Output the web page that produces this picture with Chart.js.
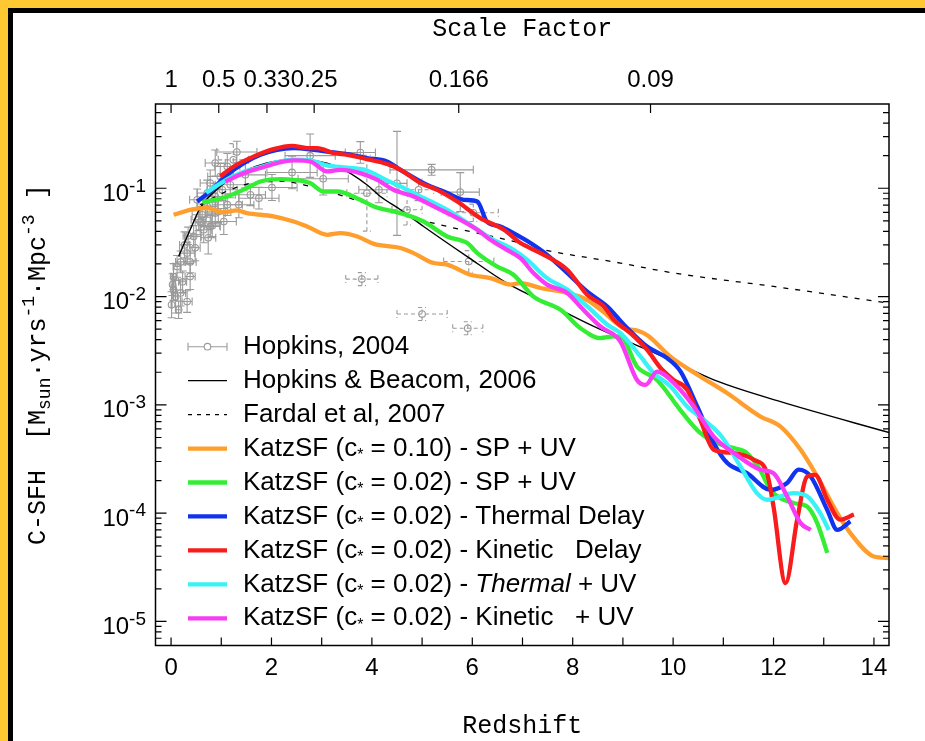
<!DOCTYPE html>
<html>
<head>
<meta charset="utf-8">
<title>Cosmic star formation history</title>
<script src="https://cdn.jsdelivr.net/npm/chart.js@4.4.1/dist/chart.umd.min.js"></script>
<style>
  html, body { margin: 0; padding: 0; background: #fff; }
  #wrap { position: relative; width: 925px; height: 741px; overflow: hidden; background: #fff; }
  .edge { position: absolute; }
  #goldTop { left: 0; top: 0; width: 925px; height: 8px; background: #fec832; }
  #goldLeft { left: 0; top: 0; width: 8px; height: 741px; background: #fec832; }
  #inkTop { left: 8px; top: 8px; width: 917px; height: 5px; background: #000; }
  #inkLeft { left: 8px; top: 8px; width: 5px; height: 733px; background: #000; }
  canvas { position: absolute; left: 0; top: 0; }
</style>
</head>
<body>
<div id="wrap">
  <div class="edge" id="goldTop"></div>
  <div class="edge" id="goldLeft"></div>
  <div class="edge" id="inkTop"></div>
  <div class="edge" id="inkLeft"></div>
  <canvas id="sfh" width="925" height="741"></canvas>
</div>
<script>
// axes
const zMin = -0.31, zMax = 14.3;
const sfhMin = 6e-6, sfhMax = 0.6;
const redshiftTicks = [0, 2, 4, 6, 8, 10, 12, 14];
const scaleFactorPos = [0, 0.95, 1.91, 2.85, 5.73, 9.55];
const scaleFactorLabels = ['1', '0.5', '0.33', '0.25', '0.166', '0.09'];
const decadeTicks = [1e-1, 1e-2, 1e-3, 1e-4, 1e-5];
const decadeExp = ['-1', '-2', '-3', '-4', '-5'];

const seriesLabels = [
  'Hopkins, 2004',
  'Hopkins & Beacom, 2006',
  'Fardal et al, 2007',
  'KatzSF (c* = 0.10) - SP + UV',
  'KatzSF (c* = 0.02) - SP + UV',
  'KatzSF (c* = 0.02) - Thermal Delay',
  'KatzSF (c* = 0.02) - Kinetic   Delay',
  'KatzSF (c* = 0.02) - |Thermal| + UV',
  'KatzSF (c* = 0.02) - Kinetic   + UV'
];

// Hopkins 2004 compilation: redshift, SFR density, redshift half-width, log error (dex), dashed bars
const hop04Z = [0.01, 0.03, 0.05, 0.05, 0.09, 0.12, 0.15, 0.19, 0.19, 0.23, 0.27, 0.32, 0.32, 0.34, 0.38, 0.38,
  0.45, 0.48, 0.52, 0.55, 0.58, 0.62, 0.65, 0.72, 0.72, 0.74, 0.78, 0.78, 0.82, 0.88, 0.88, 0.88, 0.94, 0.98,
  1.02, 1.05, 1.12, 1.12, 1.18, 1.24, 1.31, 1.35, 1.48, 1.58, 1.75, 2.01, 2.41, 2.77, 3.03, 3.77, 3.8, 3.9,
  4.14, 4.5, 4.7, 4.93, 5.0, 5.19, 5.76, 5.93, 5.91, 6.02];
const hop04Sfh = [0.0084, 0.0129, 0.0153, 0.0116, 0.00995, 0.019, 0.00755, 0.0108, 0.0209, 0.0137, 0.030, 0.009,
  0.0252, 0.0364, 0.0153, 0.0209, 0.0359, 0.0282, 0.0783, 0.0512, 0.049, 0.0569, 0.0414, 0.068, 0.0903, 0.0349,
  0.0444, 0.1117, 0.0451, 0.059, 0.084, 0.171, 0.0607, 0.1285, 0.0968, 0.0493, 0.0705, 0.159, 0.1077, 0.183,
  0.216, 0.0705, 0.133, 0.087, 0.081, 0.1017, 0.14, 0.2, 0.1225, 0.214, 0.0145, 0.09, 0.0968, 0.111, 0.0633,
  0.0968, 0.0069, 0.148, 0.0922, 0.0211, 0.0051, 0.0594];
const hop04Zerr = [0.01, 0.03, 0.05, 0.05, 0.04, 0.08, 0.05, 0.1, 0.1, 0.08, 0.1, 0.1, 0.15, 0.1, 0.1, 0.12,
  0.15, 0.1, 0.15, 0.15, 0.1, 0.2, 0.15, 0.2, 0.2, 0.15, 0.2, 0.2, 0.15, 0.2, 0.2, 0.2, 0.25, 0.25,
  0.3, 0.25, 0.3, 0.25, 0.3, 0.3, 0.4, 0.3, 0.4, 0.3, 0.4, 0.5, 0.5, 0.5, 0.5, 0.3, 0.32, 0.4,
  0.4, 0.2, 0.3, 0.3, 0.5, 0.83, 0.38, 0.5, 0.3, 0.5];
const hop04Dex = [0.12, 0.1, 0.12, 0.1, 0.15, 0.1, 0.08, 0.12, 0.1, 0.1, 0.12, 0.1, 0.1, 0.08, 0.12, 0.1,
  0.1, 0.12, 0.1, 0.1, 0.12, 0.1, 0.12, 0.1, 0.12, 0.15, 0.1, 0.12, 0.1, 0.1, 0.12, 0.12, 0.1, 0.12,
  0.1, 0.12, 0.1, 0.12, 0.12, 0.15, 0.1, 0.12, 0.12, 0.1, 0.1, 0.12, 0.15, 0.2, 0.15, 0.1, 0.06, 0.35,
  0.12, 0.48, 0.14, 0.1, 0.06, 0.05, 0.18, 0.1, 0.06, 0.08];
const hop04Dashed = [0, 0, 0, 0, 0, 0, 0, 0, 0, 0, 0, 0, 0, 0, 0, 0,
  0, 0, 0, 0, 0, 0, 0, 0, 0, 0, 0, 0, 0, 0, 0, 0, 0, 0,
  0, 0, 0, 0, 0, 1, 0, 0, 0, 0, 0, 0, 0, 0, 0, 0, 1, 1,
  0, 0, 1, 1, 1, 0, 0, 1, 1, 1];

// Hopkins & Beacom 2006 fit
const hb06Z = [0.15, 0.38, 0.58, 0.98, 1.45, 1.91, 2.44, 2.84, 3.37, 3.9, 4.17, 4.57, 5.03, 5.9, 6.69, 7.62,
  8.42, 9.48, 9.95, 10.81, 12.14, 14.33];
const hb06Sfh = [0.0234, 0.0414, 0.0656, 0.104, 0.143, 0.171, 0.186, 0.181, 0.154, 0.1077, 0.084, 0.0633, 0.0444,
  0.0234, 0.0133, 0.0081, 0.0053, 0.00323, 0.0026, 0.0017, 0.00107, 0.00055];

// Fardal et al 2007
const fardalZ = [0.58, 1.18, 1.78, 2.24, 2.77, 3.23, 3.77, 4.83, 5.36, 6.82, 7.36, 8.95, 10.01, 12.0, 14.3];
const fardalSfh = [0.0705, 0.0968, 0.1148, 0.1156, 0.104, 0.0903, 0.0756, 0.0531, 0.046, 0.0323, 0.0275, 0.0204,
  0.0165, 0.0124, 0.0087];

// KatzSF c* = 0.10, SP + UV
const katz10Z = [0.05, 0.45, 0.72, 1.04, 1.31, 1.51, 2.04, 2.44, 2.71, 3.11, 3.37, 3.71, 4.04, 4.57, 4.83, 5.23,
  5.5, 5.96, 6.36, 6.76, 6.96, 7.36, 7.89, 8.29, 8.61, 9.0, 9.3, 9.5, 9.94, 10.54, 11.08, 11.74, 12.14, 12.54,
  12.87, 13.27, 13.53, 14.0, 14.29];
const katz10Sfh = [0.0569, 0.0643, 0.0656, 0.0598, 0.0624, 0.059, 0.055, 0.0493, 0.0444, 0.0372, 0.0385, 0.0359,
  0.0307, 0.0281, 0.0252, 0.0204, 0.0197, 0.0159, 0.0148, 0.0129, 0.0133, 0.012, 0.0108, 0.0093, 0.00724,
  0.00515, 0.00483, 0.00435, 0.0028, 0.00183, 0.00128, 0.00078, 0.00063, 0.000385, 0.000218, 0.0001, 6.55e-5,
  3.98e-5, 3.85e-5];

// KatzSF c* = 0.02, SP + UV
const spUvZ = [0.62, 1.12, 1.51, 1.78, 2.18, 2.44, 2.77, 3.04, 3.31, 3.77, 4.04, 4.57, 5.03, 5.5, 5.9, 6.1, 6.49,
  6.82, 7.22, 7.76, 8.15, 8.55, 8.82, 8.95, 9.28, 9.68, 10.14, 10.54, 10.88, 11.21, 11.47, 11.73, 11.94, 12.4,
  12.67, 12.87, 13.07];
const spUvSfh = [0.074, 0.084, 0.1005, 0.1156, 0.1216, 0.1197, 0.1117, 0.0934, 0.0934, 0.0783, 0.068, 0.059,
  0.0493, 0.0359, 0.0312, 0.0252, 0.019, 0.0159, 0.01, 0.00755, 0.00512, 0.00414, 0.00429, 0.00429, 0.00226,
  0.0017, 0.0009, 0.00055, 0.000443, 0.000399, 0.000359, 0.000252, 0.000164, 0.000124, 0.000115, 8.1e-5, 4.3e-5];

// KatzSF c* = 0.02, thermal delay
const thDelayZ = [0.52, 0.78, 1.12, 1.45, 1.78, 2.11, 2.44, 2.84, 3.24, 3.51, 3.9, 4.3, 4.57, 5.03, 5.5, 5.83,
  6.1, 6.29, 6.56, 6.82, 7.16, 7.49, 7.89, 8.29, 8.69, 9.02, 9.48, 9.88, 10.15, 10.48, 10.81, 11.08, 11.47,
  11.94, 12.27, 12.5, 12.74, 13.07, 13.27, 13.53];
const thDelaySfh = [0.0755, 0.0934, 0.1334, 0.171, 0.2037, 0.2265, 0.235, 0.2265, 0.214, 0.207, 0.19, 0.1767,
  0.148, 0.1117, 0.0903, 0.0783, 0.0755, 0.0493, 0.0444, 0.0385, 0.0312, 0.0243, 0.0165, 0.0111, 0.0081,
  0.0055, 0.00346, 0.0027, 0.00203, 0.000966, 0.000443, 0.00029, 0.000234, 0.000164, 0.00019, 0.000252,
  0.000218, 0.000107, 7.0e-5, 8.4e-5];

// KatzSF c* = 0.02, kinetic delay
const kinDelayZ = [0.98, 1.25, 1.65, 2.04, 2.41, 2.71, 2.91, 3.24, 3.51, 3.9, 4.3, 4.57, 4.97, 5.3, 5.7, 6.16,
  6.63, 6.96, 7.36, 7.89, 8.29, 8.62, 8.82, 9.15, 9.48, 9.75, 10.01, 10.28, 10.54, 10.81, 11.21, 11.61, 11.87,
  12.0, 12.24, 12.47, 12.67, 12.83, 13.07, 13.33, 13.6];
const kinDelaySfh = [0.1285, 0.159, 0.197, 0.23, 0.2466, 0.235, 0.235, 0.2113, 0.2037, 0.186, 0.168, 0.148,
  0.1117, 0.0968, 0.0755, 0.0531, 0.0414, 0.0312, 0.0252, 0.0177, 0.0104, 0.0081, 0.0061, 0.0046, 0.00323,
  0.00219, 0.0017, 0.00138, 0.00073, 0.000385, 0.000359, 0.000311, 0.000234, 0.000115, 2.26e-5, 8.7e-5,
  0.000218, 0.000226, 0.000133, 8.7e-5, 9.7e-5];

// KatzSF c* = 0.02, thermal + UV
const thUvZ = [0.7, 0.94, 1.18, 1.45, 1.78, 2.11, 2.44, 2.77, 3.11, 3.51, 3.9, 4.3, 4.57, 4.83, 5.5, 5.96, 6.36,
  6.82, 7.09, 7.49, 7.89, 8.29, 8.69, 8.95, 9.35, 9.61, 9.95, 10.28, 10.61, 10.98, 11.34, 11.67, 11.87, 12.4,
  12.67, 12.93, 13.1];
const thUvSfh = [0.0908, 0.1077, 0.125, 0.142, 0.157, 0.174, 0.184, 0.181, 0.163, 0.155, 0.146, 0.118, 0.104,
  0.0903, 0.0633, 0.046, 0.0347, 0.027, 0.0219, 0.0148, 0.0116, 0.0081, 0.0055, 0.0046, 0.0028, 0.00197,
  0.00148, 0.000966, 0.00073, 0.0005, 0.00027, 0.000153, 0.000133, 0.000153, 0.000143, 0.0001, 7.0e-5];

// KatzSF c* = 0.02, kinetic + UV
const kinUvZ = [1.08, 1.45, 1.78, 2.11, 2.44, 2.77, 3.11, 3.37, 3.77, 4.1, 4.43, 4.83, 5.3, 5.7, 6.1, 6.36, 6.69,
  6.96, 7.22, 7.49, 7.89, 8.15, 8.55, 8.95, 9.28, 9.45, 9.68, 10.08, 10.41, 10.81, 11.21, 11.74, 12.0, 12.27,
  12.54, 12.74];
const kinUvSfh = [0.1156, 0.138, 0.154, 0.171, 0.181, 0.1767, 0.143, 0.148, 0.138, 0.12, 0.0968, 0.084, 0.0656,
  0.0531, 0.0414, 0.0334, 0.027, 0.0226, 0.0165, 0.0129, 0.0108, 0.0081, 0.0053, 0.00385, 0.0017, 0.00153,
  0.00203, 0.00148, 0.000966, 0.00051, 0.000359, 0.000252, 0.000234, 0.000143, 8.1e-5, 7.0e-5];

const grey = '#9a9a9a';
const sans = '"Liberation Sans", Arial, Helvetica, sans-serif';
const mono = '"Liberation Mono", "Courier New", monospace';

function pts(zs, vs) {
  return zs.map((z, i) => ({ x: z, y: vs[i] }));
}

function curve(label, zs, vs, color, width, dash) {
  return {
    label: label,
    data: pts(zs, vs),
    borderColor: color,
    backgroundColor: color,
    borderWidth: width,
    borderDash: dash || [],
    pointRadius: 0,
    pointHoverRadius: 0,
    cubicInterpolationMode: 'monotone',
    fill: false,
    xAxisID: 'x',
    yAxisID: 'y'
  };
}

const datasets = [
  {
    label: seriesLabels[0],
    data: pts(hop04Z, hop04Sfh),
    showLine: false,
    borderColor: grey,
    backgroundColor: 'rgba(0,0,0,0)',
    pointRadius: 3.3,
    pointHoverRadius: 3.3,
    pointBorderWidth: 1.1,
    pointBorderColor: grey,
    pointBackgroundColor: 'rgba(0,0,0,0)',
    xAxisID: 'x',
    yAxisID: 'y'
  },
  curve(seriesLabels[1], hb06Z, hb06Sfh, '#000', 1.4),
  curve(seriesLabels[2], fardalZ, fardalSfh, '#000', 1.3, [5, 7]),
  curve(seriesLabels[3], katz10Z, katz10Sfh, '#ff9e2c', 4.3),
  curve(seriesLabels[4], spUvZ, spUvSfh, '#33ee33', 4.3),
  curve(seriesLabels[5], thDelayZ, thDelaySfh, '#1133ee', 4.3),
  curve(seriesLabels[6], kinDelayZ, kinDelaySfh, '#f81c1c', 4.3),
  curve(seriesLabels[7], thUvZ, thUvSfh, '#38f2f7', 4.3),
  curve(seriesLabels[8], kinUvZ, kinUvSfh, '#f83cf5', 4.3)
];
// later entries sit on top
datasets.forEach((d, i) => { d.order = datasets.length - 1 - i; });

// grey error bars under the Hopkins 2004 markers
const errorBars = {
  id: 'errorBars',
  beforeDatasetsDraw(chart) {
    const { ctx, chartArea: a, scales: { x, y } } = chart;
    ctx.save();
    ctx.beginPath();
    ctx.rect(a.left, a.top, a.right - a.left, a.bottom - a.top);
    ctx.clip();
    ctx.strokeStyle = grey;
    ctx.lineWidth = 1.1;
    hop04Z.forEach((z, i) => {
      const v = hop04Sfh[i], f = Math.pow(10, hop04Dex[i]);
      const px = x.getPixelForValue(z), py = y.getPixelForValue(v);
      const x0 = x.getPixelForValue(z - hop04Zerr[i]), x1 = x.getPixelForValue(z + hop04Zerr[i]);
      const y0 = y.getPixelForValue(v / f), y1 = y.getPixelForValue(v * f);
      ctx.setLineDash(hop04Dashed[i] ? [4, 3] : []);
      ctx.beginPath();
      ctx.moveTo(x0, py); ctx.lineTo(x1, py);
      ctx.moveTo(px, y0); ctx.lineTo(px, y1);
      ctx.moveTo(x0, py - 4); ctx.lineTo(x0, py + 4);
      ctx.moveTo(x1, py - 4); ctx.lineTo(x1, py + 4);
      ctx.moveTo(px - 4, y0); ctx.lineTo(px + 4, y0);
      ctx.moveTo(px - 4, y1); ctx.lineTo(px + 4, y1);
      ctx.stroke();
    });
    ctx.restore();
  }
};

// legend text: '*' is the small star after c, '|' toggles italics
function drawRich(ctx, text, x, y) {
  let italic = false;
  text.split(/([*|])/).forEach(p => {
    if (p === '|') { italic = !italic; return; }
    if (p === '*') {
      ctx.font = '16px ' + sans;
      ctx.fillText('*', x, y + 7);
      x += ctx.measureText('*').width;
      return;
    }
    ctx.font = (italic ? 'italic ' : '') + '26px ' + sans;
    ctx.fillText(p, x, y);
    x += ctx.measureText(p).width;
  });
}

const frameTicks = {
  id: 'frameTicks',
  afterDraw(chart) {
    const { ctx, chartArea: a, scales } = chart;
    const x = scales.x, y = scales.y, top = scales.xTop;
    ctx.save();

    // box
    ctx.strokeStyle = '#000';
    ctx.setLineDash([]);
    ctx.lineWidth = 1.5;
    ctx.strokeRect(a.left, a.top, a.right - a.left, a.bottom - a.top);

    // inward ticks
    ctx.lineWidth = 1.2;
    ctx.beginPath();
    for (let z = Math.ceil(x.min); z <= x.max; z++) {
      const px = x.getPixelForValue(z);
      ctx.moveTo(px, a.bottom); ctx.lineTo(px, a.bottom - 8);
    }
    top.ticks.forEach(t => {
      const px = top.getPixelForValue(t.value);
      ctx.moveTo(px, a.top); ctx.lineTo(px, a.top + 9);
    });
    for (let e = -6; e <= -1; e++) {
      for (let m = 1; m <= 9; m++) {
        const v = m * Math.pow(10, e);
        if (v < y.min || v > y.max) continue;
        const py = y.getPixelForValue(v);
        const len = m === 1 ? 11 : 6;
        ctx.moveTo(a.left, py); ctx.lineTo(a.left + len, py);
        ctx.moveTo(a.right, py); ctx.lineTo(a.right - len, py);
      }
    }
    ctx.stroke();

    // decade labels 10^n
    ctx.fillStyle = '#000';
    ctx.textBaseline = 'middle';
    decadeTicks.forEach((v, i) => {
      const py = y.getPixelForValue(v);
      ctx.font = '19px ' + sans;
      const ew = ctx.measureText(decadeExp[i]).width;
      ctx.textAlign = 'left';
      ctx.fillText(decadeExp[i], 146 - ew, py - 2);
      ctx.font = '24px ' + sans;
      ctx.textAlign = 'right';
      ctx.fillText('10', 146 - ew, py + 6);
    });

    // vertical axis title
    ctx.save();
    ctx.translate(38, 545);
    ctx.rotate(-Math.PI / 2);
    ctx.textAlign = 'left';
    let tx = 0;
    [['C-SFH', 0], ['  [M', 0], ['sun', 7], ['\u00b7yrs', 0], ['-1', -9], ['\u00b7Mpc', 0], ['-3', -9], [' ]', 0]]
      .forEach(([t, dy]) => {
        ctx.font = (dy ? 18 : 25) + 'px ' + mono;
        ctx.fillText(t, tx, dy);
        tx += ctx.measureText(t).width;
      });
    ctx.restore();

    // legend
    const rowTop = 346.7, rowGap = 33.95, lx0 = 188, lx1 = 227, textX = 243;
    chart.data.datasets.forEach((d, i) => {
      const ry = rowTop + i * rowGap;
      ctx.strokeStyle = d.borderColor;
      ctx.beginPath();
      if (d.showLine === false) {
        ctx.lineWidth = 1.1;
        ctx.setLineDash([]);
        const cx = (lx0 + lx1) / 2;
        ctx.moveTo(lx0, ry); ctx.lineTo(cx - 3.3, ry);
        ctx.moveTo(cx + 3.3, ry); ctx.lineTo(lx1, ry);
        ctx.moveTo(lx0, ry - 4); ctx.lineTo(lx0, ry + 4);
        ctx.moveTo(lx1, ry - 4); ctx.lineTo(lx1, ry + 4);
        ctx.stroke();
        ctx.beginPath();
        ctx.arc(cx, ry, 3.3, 0, Math.PI * 2);
        ctx.stroke();
      } else {
        ctx.lineWidth = d.borderWidth;
        ctx.setLineDash(d.borderDash.length ? [4, 5] : []);
        ctx.moveTo(lx0, ry); ctx.lineTo(lx1, ry);
        ctx.stroke();
      }
      ctx.setLineDash([]);
      ctx.fillStyle = '#000';
      ctx.textAlign = 'left';
      drawRich(ctx, d.label, textX, ry);
    });
    ctx.restore();
  }
};

Chart.defaults.font.family = sans;
Chart.defaults.color = '#000';

new Chart(document.getElementById('sfh'), {
  type: 'line',
  data: { datasets: datasets },
  options: {
    responsive: false,
    animation: false,
    devicePixelRatio: 1,
    events: [],
    layout: { padding: { left: 0, right: 36, top: 0, bottom: 0 } },
    plugins: { legend: { display: false }, tooltip: { enabled: false } },
    scales: {
      x: {
        type: 'linear',
        position: 'bottom',
        min: zMin,
        max: zMax,
        grid: { display: false, drawTicks: false },
        border: { display: false },
        afterBuildTicks: s => { s.ticks = redshiftTicks.map(v => ({ value: v })); },
        afterFit: s => { s.height = 95.5; },
        ticks: { font: { family: sans, size: 24 }, color: '#000', padding: 8, maxRotation: 0, autoSkip: false },
        title: { display: true, text: 'Redshift', color: '#000', font: { family: mono, size: 25 }, padding: { top: 0, bottom: 0 } }
      },
      xTop: {
        type: 'linear',
        position: 'top',
        min: zMin,
        max: zMax,
        grid: { display: false, drawTicks: false },
        border: { display: false },
        afterBuildTicks: s => { s.ticks = scaleFactorPos.map(v => ({ value: v })); },
        afterFit: s => { s.height = 104; },
        ticks: {
          font: { family: sans, size: 24 },
          color: '#000',
          padding: 9,
          maxRotation: 0,
          autoSkip: false,
          callback: (v, i) => scaleFactorLabels[i]
        },
        title: { display: true, text: 'Scale Factor', color: '#000', font: { family: mono, size: 25 }, padding: { top: 14, bottom: 0 } }
      },
      y: {
        type: 'logarithmic',
        position: 'left',
        min: sfhMin,
        max: sfhMax,
        grid: { display: false, drawTicks: false },
        border: { display: false },
        ticks: { display: false },
        afterFit: s => { s.width = 155.5; }
      }
    }
  },
  plugins: [errorBars, frameTicks]
});
</script>
</body>
</html>
